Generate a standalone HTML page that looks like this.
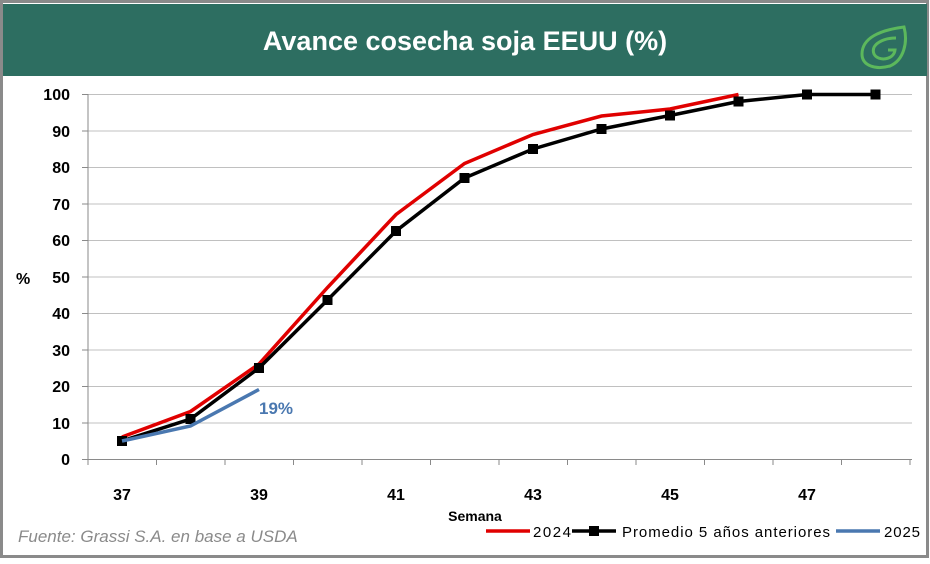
<!DOCTYPE html>
<html><head><meta charset="utf-8"><style>
body{margin:0;width:930px;height:559px;background:#fff;overflow:hidden;font-family:"Liberation Sans",sans-serif;}
</style></head><body>
<svg width="930" height="559" xmlns="http://www.w3.org/2000/svg" font-family="Liberation Sans, sans-serif">
<rect x="1.5" y="1.5" width="926" height="555" fill="#fff" stroke="#8a8a8a" stroke-width="3"/>
<rect x="3" y="4" width="924" height="72" fill="#2d6e61"/>
<text x="465" y="50" fill="#fff" font-size="27" font-weight="bold" text-anchor="middle">Avance cosecha soja EEUU (%)</text>
<g fill="none" stroke="#5cb85c" stroke-width="3">
<path d="M904 27 C880 30 862 38 862 54 C862 66 876 70 890 66 C904 60 908 42 904 27 Z"/>
<path d="M888 50 L895 50 C894 60 878 62 874 54 C870 44 884 38 896 38"/>
</g>
<g stroke="#c0c0c0" stroke-width="1">
<line x1="88" x2="912" y1="94.5" y2="94.5"/><line x1="88" x2="912" y1="131" y2="131"/>
<line x1="88" x2="912" y1="167.5" y2="167.5"/><line x1="88" x2="912" y1="204" y2="204"/>
<line x1="88" x2="912" y1="240.5" y2="240.5"/><line x1="88" x2="912" y1="277" y2="277"/>
<line x1="88" x2="912" y1="313.5" y2="313.5"/><line x1="88" x2="912" y1="350" y2="350"/>
<line x1="88" x2="912" y1="386.5" y2="386.5"/><line x1="88" x2="912" y1="423" y2="423"/>
</g>
<g stroke="#8a8a8a" stroke-width="1">
<line x1="88" x2="88" y1="94" y2="465"/><line x1="82" x2="912" y1="459.5" y2="459.5"/>
<line x1="82" x2="88" y1="94.5" y2="94.5"/><line x1="82" x2="88" y1="131" y2="131"/><line x1="82" x2="88" y1="167.5" y2="167.5"/><line x1="82" x2="88" y1="204" y2="204"/><line x1="82" x2="88" y1="240.5" y2="240.5"/><line x1="82" x2="88" y1="277" y2="277"/><line x1="82" x2="88" y1="313.5" y2="313.5"/><line x1="82" x2="88" y1="350" y2="350"/><line x1="82" x2="88" y1="386.5" y2="386.5"/><line x1="82" x2="88" y1="423" y2="423"/>
<line x1="156.5" x2="156.5" y1="459" y2="465"/><line x1="225" x2="225" y1="459" y2="465"/><line x1="293.5" x2="293.5" y1="459" y2="465"/><line x1="362" x2="362" y1="459" y2="465"/><line x1="430.5" x2="430.5" y1="459" y2="465"/><line x1="499" x2="499" y1="459" y2="465"/><line x1="567.5" x2="567.5" y1="459" y2="465"/><line x1="636" x2="636" y1="459" y2="465"/><line x1="704.5" x2="704.5" y1="459" y2="465"/><line x1="773" x2="773" y1="459" y2="465"/><line x1="841.5" x2="841.5" y1="459" y2="465"/><line x1="910" x2="910" y1="459" y2="465"/>
</g>
<g font-size="16" font-weight="bold" fill="#000" text-anchor="end">
<text x="70" y="100">100</text><text x="70" y="137">90</text><text x="70" y="173">80</text><text x="70" y="210">70</text><text x="70" y="246">60</text><text x="70" y="283">50</text><text x="70" y="319">40</text><text x="70" y="356">30</text><text x="70" y="392">20</text><text x="70" y="429">10</text><text x="70" y="465">0</text>
</g>
<text x="16" y="284" font-size="16" font-weight="bold">%</text>
<g font-size="16" font-weight="bold" text-anchor="middle">
<text x="122" y="500">37</text><text x="259" y="500">39</text><text x="396" y="500">41</text><text x="533" y="500">43</text><text x="670" y="500">45</text><text x="807" y="500">47</text>
</g>
<text x="475" y="521" font-size="14" font-weight="bold" text-anchor="middle">Semana</text>
<text x="18" y="542" font-size="17" font-style="italic" fill="#8a8a8a">Fuente: Grassi S.A. en base a USDA</text>
<polyline fill="none" stroke="#e00000" stroke-width="3.5" points="122,437 190.5,411.5 259,364 327.5,287.5 396,214.5 464.5,163.5 533,134.5 601.5,116 670,109 738.5,94.5"/>
<polyline fill="none" stroke="#000" stroke-width="3.5" points="122,441 190.5,419 259,368 327.5,300 396,231 464.5,178 533,149 601.5,129 670,115.5 738.5,101.5 807,94.5 875.5,94.5"/>
<g fill="#000">
<rect x="117" y="436" width="10" height="10"/><rect x="185.5" y="414" width="10" height="10"/><rect x="254" y="363" width="10" height="10"/><rect x="322.5" y="295" width="10" height="10"/><rect x="391" y="226" width="10" height="10"/><rect x="459.5" y="173" width="10" height="10"/><rect x="528" y="144" width="10" height="10"/><rect x="596.5" y="124" width="10" height="10"/><rect x="665" y="110.5" width="10" height="10"/><rect x="733.5" y="96.5" width="10" height="10"/><rect x="802" y="89.5" width="10" height="10"/><rect x="870.5" y="89.5" width="10" height="10"/>
</g>
<polyline fill="none" stroke="#4a78b0" stroke-width="3.5" points="122,441 190.5,426 259,389.5"/>
<text x="259" y="414" font-size="17" font-weight="bold" fill="#4a78b0">19%</text>
<line x1="486" x2="530" y1="531" y2="531" stroke="#e00000" stroke-width="3.5"/>
<text x="533" y="537" font-size="15" textLength="38">2024</text>
<line x1="572" x2="616" y1="531" y2="531" stroke="#000" stroke-width="3.5"/>
<rect x="589" y="526" width="10" height="10"/>
<text x="622" y="537" font-size="15" textLength="208">Promedio 5 años anteriores</text>
<line x1="836" x2="880" y1="531" y2="531" stroke="#4a78b0" stroke-width="3.5"/>
<text x="884" y="537" font-size="15" textLength="36">2025</text>
</svg>
</body></html>
